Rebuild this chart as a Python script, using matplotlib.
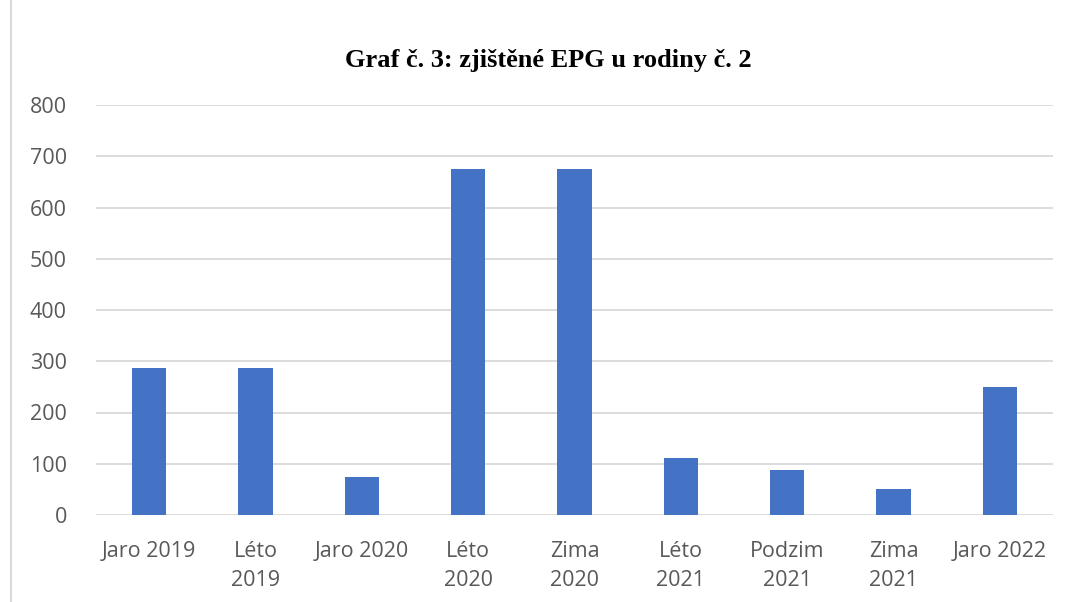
import matplotlib.pyplot as plt
import numpy as np

categories = ["Jaro 2019", "Léto\n2019", "Jaro 2020", "Léto\n2020", "Zima\n2020",
              "Léto\n2021", "Podzim\n2021", "Zima\n2021", "Jaro 2022"]
values = [287, 287, 75, 675, 675, 112, 87, 50, 250]
yticks = [0, 100, 200, 300, 400, 500, 600, 700, 800]

fig = plt.figure(figsize=(10.72, 6.02), dpi=100)
ax = fig.add_axes([96/1072, 1 - 515/602, (1053 - 96)/1072, (515 - 105)/602])

x = np.arange(len(categories))
ax.bar(x, values, width=0.32, color="#4472C4", zorder=3)

ax.set_xlim(-0.5, len(categories) - 0.5)
ax.set_ylim(0, 800)
ax.set_yticks(yticks)
ax.set_xticks(x)
ax.set_xticklabels(categories, linespacing=1.5)
ax.grid(axis="y", color="#D9D9D9", linewidth=1.3, zorder=0)
for s in ax.spines.values():
    s.set_visible(False)
ax.tick_params(length=0, labelsize=15.5, labelcolor="#595959")
ax.tick_params(axis="x", pad=19)
ax.tick_params(axis="y", pad=21)
for lab in ax.get_xticklabels() + ax.get_yticklabels():
    lab.set_family("Open Sans")

fig.text(548/1072, 1 - 61/602, "Graf č. 3: zjištěné EPG u rodiny č. 2",
         family="Liberation Serif", weight="bold", fontsize=19,
         ha="center", va="center")

# thin border line on the left edge
fig.add_artist(plt.Line2D([11/1072, 11/1072], [0, 1], color="#D9D9D9", linewidth=1.5))

fig.savefig("out.png", dpi=100)
